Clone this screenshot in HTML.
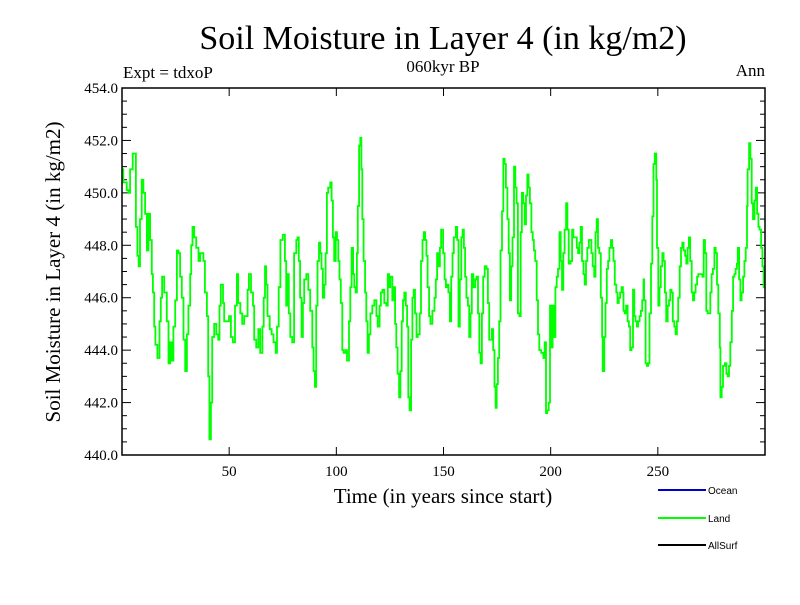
<!DOCTYPE html>
<html><head><meta charset="utf-8"><style>
body{margin:0;background:#fff;}
svg text{font-family:"Liberation Serif",serif;fill:#000;}
</style></head><body>
<svg id="chart" width="800" height="600" xmlns="http://www.w3.org/2000/svg">
<text x="443" y="49" font-size="34" text-anchor="middle">Soil Moisture in Layer 4 (in kg/m2)</text>
<text x="123" y="78" font-size="17">Expt = tdxoP</text>
<text x="443" y="72" font-size="17" text-anchor="middle">060kyr BP</text>
<text x="765" y="76" font-size="17" text-anchor="end">Ann</text>
<text transform="translate(60,272) rotate(-90)" font-size="21" text-anchor="middle">Soil Moisture in Layer 4 (in kg/m2)</text>
<text x="443" y="503" font-size="21" text-anchor="middle">Time (in years since start)</text>
<g id="ticks"></g>
<g id="series"></g>
<rect x="122" y="88" width="643" height="367" fill="none" stroke="#000" stroke-width="1.5"/>
<g>
<line x1="658" y1="490" x2="706" y2="490" stroke="#0000cc" stroke-width="2"/>
<text x="708" y="494" font-size="10" style="font-family:'Liberation Sans',sans-serif">Ocean</text>
<line x1="658" y1="518" x2="706" y2="518" stroke="#00ff00" stroke-width="2"/>
<text x="708" y="522" font-size="10" style="font-family:'Liberation Sans',sans-serif">Land</text>
<line x1="658" y1="545" x2="706" y2="545" stroke="#000" stroke-width="2"/>
<text x="708" y="549" font-size="10" style="font-family:'Liberation Sans',sans-serif">AllSurf</text>
</g>
</svg>
<script>
const years=[0,0.6,2.2,3,3.8,5,6.1,6.5,7.2,7.8,8.4,9.2,10,10.8,11.6,12.3,13.1,13.9,14.4,15,15.6,16.5,17.5,18.1,18.7,19.7,20.9,21.7,22.5,23.2,24,24.8,25.6,26.4,27.1,27.9,28.7,29.5,30.3,31,31.8,32.3,32.9,33.7,34.6,35.7,36.5,38,38.7,39.6,40.2,40.8,41.5,42.1,43,44,44.9,45.5,46.1,47.1,47.7,48.6,49.9,50.8,51.7,52.7,53.6,54.2,55.2,56.1,57,58,58.6,59.2,60.2,61.1,61.7,62.6,63.6,64.5,65.5,66.1,66.7,67.3,67.9,68.9,69.8,70.7,71.7,72.3,73.1,73.9,75,76,76.6,77.2,77.8,78.5,79.4,80.3,81.3,81.9,82.5,83.1,83.8,84.4,85,86,86.9,87.8,88.8,89.4,90,90.6,91.2,91.9,92.5,93.1,93.7,94.4,95,95.6,96.2,97.2,97.8,98.4,99,99.7,100.3,100.9,101.5,102.1,102.8,103.4,104.3,105,105.9,106.5,107.1,107.8,108.4,109,109.6,110,110.6,111.2,111.7,112.1,112.7,113.4,114,114.6,115.2,115.9,116.8,117.7,118.7,119.3,120.2,120.8,121.5,122.4,123.3,124,124.6,125.2,126.1,126.8,127.4,128,128.6,129.3,129.9,130.5,131.1,131.7,132.4,133,133.6,134.2,134.9,135.5,136.1,136.7,137.4,138,138.9,139.5,140.2,140.8,141.4,142,142.6,143.3,143.9,144.8,145.8,146.4,147,147.6,148.3,148.9,149.8,150.5,151.1,151.7,152.3,153,153.6,154.2,154.8,155.8,156.4,157,157.6,158.3,158.9,159.5,160.1,160.7,161.4,162,162.6,163.2,163.9,164.8,165.4,166.1,166.7,167.3,167.9,168.5,169.2,170.1,170.7,171.3,172,172.6,173.2,173.8,174.3,174.8,175.4,176,176.6,177.3,177.9,178.5,179.1,179.8,180.4,181,181.6,182.2,182.9,183.5,184.1,184.7,185.4,186,186.6,187.2,187.9,188.5,189.1,189.7,190.3,191,191.6,192.2,192.8,193.5,194.1,194.7,195.6,196.6,197.2,197.8,198.4,199.1,199.7,200.3,200.9,201.6,202.2,202.8,203.4,204.1,204.7,205.3,205.9,206.5,207.2,207.8,208.4,209.3,210,210.6,211.5,212.2,212.8,213.4,214,214.6,215.3,215.9,216.5,217.1,217.8,218.4,219,219.6,220.3,220.9,221.5,222.1,222.7,223.4,224,224.3,225,225.6,226.2,226.8,227.4,228.1,228.7,229.3,229.9,230.6,231.2,231.8,232.4,233.1,233.7,234,234.6,235.2,235.9,236.5,237.1,237.7,238.4,239,239.6,240.2,240.8,241.5,242.1,242.7,243.3,243.6,244.3,244.9,245.5,246.1,246.8,247.4,248,248.6,249.3,249.6,250.2,250.8,251.4,252.1,252.7,253.3,253.9,254.6,255.2,255.8,256.4,257,257.7,258.3,258.9,259.5,260.2,260.8,261.4,262,262.7,263.3,263.9,264.5,265.1,265.8,266.4,267,267.6,268.3,268.9,269.5,270.1,270.8,271.4,272,272.6,273.2,273.9,274.5,275.1,275.7,276.4,277,277.6,278.2,278.9,279.2,279.8,280.4,281.3,282,282.6,283.2,283.8,284.5,285.1,285.7,286.3,286.9,287.3,287.9,288.5,289.1,289.8,290.4,291,291.6,291.9,292.6,293.2,293.8,294.4,295.1,295.7,296.3,296.9,297.5,298.2,298.8,299.4];
const landValues=[450.9,450.4,450.1,450.0,450.9,451.5,451.5,448.7,447.6,447.2,449,450.5,450.0,449.2,447.8,449.2,448.2,446.9,446.2,444.9,444.2,443.7,445.1,446.0,446.8,446.2,445.1,443.5,444.3,443.6,444.9,445.9,447.8,447.7,446.8,446.0,444.4,443.2,444.6,445.7,446.9,448.0,448.7,448.3,447.9,447.4,447.7,447.4,446.2,445.3,443.0,440.6,442.0,444.5,445.0,444.6,444.4,445.7,446.5,445.8,445.1,445.1,445.3,444.5,444.3,445.7,446.9,445.8,445.4,445.0,445.3,445.3,446.3,446.9,446.2,445.7,444.4,444.1,444.8,443.9,444.9,446.0,447.2,446.5,445.3,444.8,444.6,444.3,443.9,444.9,446.4,448.2,448.4,447.4,445.7,446.9,445.4,444.5,444.3,447.7,448.2,448.3,447.4,446.0,444.5,445.8,446.7,446.9,446.3,445.5,444.1,443.2,442.6,445.7,447.4,448.1,447.7,447.1,446.0,446.5,447.7,450.0,450.2,450.4,449.7,448.3,447.4,448.5,448.2,447.4,446.7,445.8,444.0,443.9,444.0,443.6,445.1,446.4,447.9,446.9,446.4,446.2,447.7,449.5,451.8,452.1,450.9,449,447.4,446.2,445.1,443.9,444.6,445.4,445.7,445.9,445.3,444.9,445.7,446.2,446.3,445.8,445.7,446.9,446.4,446.8,445.9,446.4,445.0,444.1,443.1,442.2,443.2,445.1,445.9,446.2,445.7,444.9,442.2,441.7,444.4,446.0,446.3,445.4,444.5,444.6,445.4,447.4,448.2,448.5,448.2,447.6,446.4,445.3,445.0,445.5,446.0,446.7,447.7,447.2,447.9,448.6,447.7,446.7,446.4,446.5,446.2,445.1,446.8,447.7,448.3,448.7,448.2,444.9,446.7,448.3,448.6,447.9,446.8,446.0,445.7,444.5,445.4,446.9,446.4,446.7,446.8,445.4,443.9,443.5,445.4,446.8,447.2,447.1,445.8,444.4,444.4,444.8,444.0,442.6,441.8,442.7,443.7,445.1,447.8,449.3,451.3,451.1,450.2,449,447.7,445.9,447.2,448.3,451.0,450.2,449.6,445.4,445.3,448.5,450.0,449.6,448.8,449.9,450.7,450.2,449.6,448.5,448.2,447.8,447.4,445.9,444.6,444.0,443.9,443.7,444.3,441.6,441.7,442.0,445.7,444.1,445.7,444.5,446.4,446.8,447.1,448.5,447.4,446.3,447.7,448.6,449.6,448.6,447.3,447.4,448.6,448.3,448.3,447.9,447.7,448.1,448.7,447.4,446.9,446.5,447.4,447.9,448.2,448.2,447.7,447.2,446.8,448.5,449.0,447.9,447.7,446.0,444.5,443.2,444.5,445.8,447.1,447.4,447.9,448.2,447.9,447.4,446.5,446.2,445.8,446.0,446.2,446.4,446.2,445.5,445.4,445.7,445.1,444.9,444.0,444.1,446.3,445.3,445.1,444.9,445.1,445.3,445.5,445.9,446.7,445.9,443.5,443.4,443.5,445.4,447.3,449.1,451.1,451.5,450.5,447.9,445.7,446.4,447.2,447.7,447.4,446.2,445.1,445.7,445.9,446.3,446.2,445.1,444.9,444.6,445.1,446.0,447.2,447.9,448.1,447.8,447.6,447.3,447.9,448.3,447.4,446.2,445.9,446.2,446.5,446.8,446.9,446.9,446.9,446.8,448.2,447.7,445.5,445.4,445.4,446.2,446.9,447.1,447.9,447.7,446.5,445.4,444.1,442.2,442.6,443.4,443.5,443.1,443.0,443.4,444.3,445.5,446.8,446.9,447.1,447.3,447.9,446.7,445.9,446.2,446.8,447.4,447.9,449.5,450.9,451.9,451.3,449.6,449.0,449.7,450.2,449.2,448.7,448.6,447.9,447.2,446.4];
const yTickValues=[440,442,444,446,448,450,452,454];
const xTickValues=[50,100,150,200,250];
const X0=122,X1=765,Y0=455,Y1=88;
function xs(t){return X0+(t-0)/(300-0)*(X1-X0);}
function ys(v){return Y0-(v-440)/(454-440)*(Y0-Y1);}
const NS="http://www.w3.org/2000/svg";
const tg=document.getElementById('ticks');
function mk(tag,attrs,parent){const e=document.createElementNS(NS,tag);for(const k in attrs)e.setAttribute(k,attrs[k]);parent.appendChild(e);return e;}
for(let v=440;v<=454.001;v+=0.5){
  const major=Math.abs(v-Math.round(v/2)*2)<1e-6;const len=major?9:5;const y=ys(v);
  const l1=mk('line',{x1:X0,x2:X0+len,y1:y,y2:y,stroke:'#000','stroke-width':1},tg);
  
  
  const l2=mk('line',{x1:X1,x2:X1-len,y1:y,y2:y,stroke:'#000','stroke-width':1},tg);
  
  
}
yTickValues.forEach(v=>{
  const t=mk('text',{x:X0-4,y:ys(v)+5,'font-size':15,'text-anchor':'end'},tg);t.textContent=v.toFixed(1);
  
  
});
xTickValues.forEach(v=>{
  const x=xs(v);
  const a=mk('line',{x1:x,x2:x,y1:Y0,y2:Y0-8,stroke:'#000','stroke-width':1},tg);
  
  
  const b=mk('line',{x1:x,x2:x,y1:Y1,y2:Y1+8,stroke:'#000','stroke-width':1},tg);
  
  
  const t=mk('text',{x:x,y:476,'font-size':15,'text-anchor':'middle'},tg);t.textContent=v;
  
  
});
const sg=document.getElementById('series');
let pts=[];
for(let i=0;i<years.length;i++){
  const x=xs(years[i]),y=ys(landValues[i]);
  if(i>0)pts.push(x.toFixed(1)+','+ys(landValues[i-1]).toFixed(1));
  pts.push(x.toFixed(1)+','+y.toFixed(1));
}
pts.push(xs(300).toFixed(1)+','+ys(landValues[landValues.length-1]).toFixed(1));
const pl=mk('polyline',{points:pts.join(' '),fill:'none',stroke:'#00ff00','stroke-width':1.8,'stroke-linejoin':'miter'},sg);


</script>
</body></html>
